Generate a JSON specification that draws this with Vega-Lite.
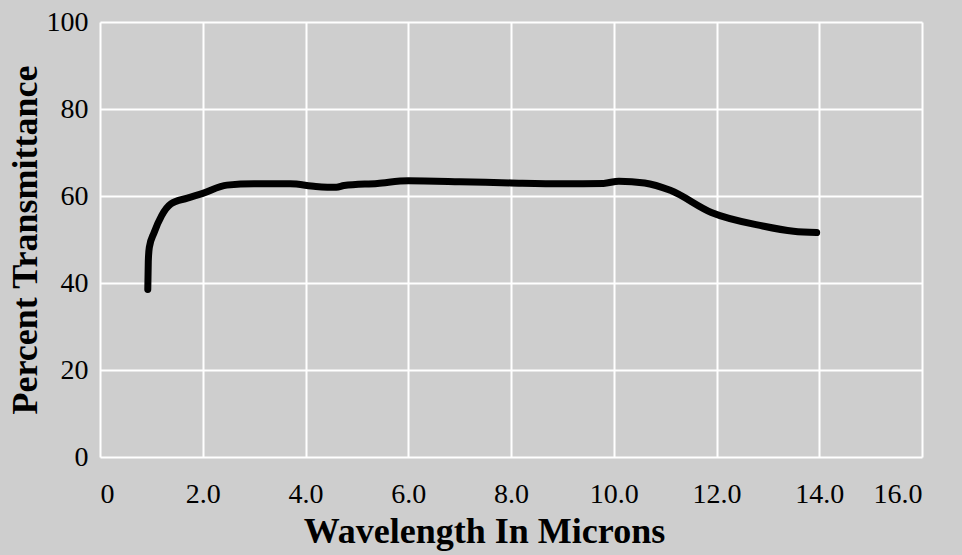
{
  "$schema": "https://vega.github.io/schema/vega-lite/v6.json",
  "width": 822,
  "height": 435,
  "autosize": {"type": "none"},
  "padding": {"left": 100, "top": 22, "right": 40, "bottom": 98},
  "background": "#cecece",
  "config": {
    "view": {"fill": "#cecece", "stroke": null},
    "font": "Liberation Serif"
  },
  "data": {
    "values": [
      {"w": 0.93, "t": 38.5},
      {"w": 0.94, "t": 45.0},
      {"w": 0.96, "t": 48.2},
      {"w": 1.05, "t": 51.5},
      {"w": 1.2, "t": 55.5},
      {"w": 1.38, "t": 58.2},
      {"w": 1.7, "t": 59.5},
      {"w": 2.0, "t": 60.6},
      {"w": 2.47, "t": 62.5},
      {"w": 3.0, "t": 62.8},
      {"w": 3.7, "t": 62.8},
      {"w": 4.2, "t": 62.2},
      {"w": 4.6, "t": 62.0},
      {"w": 4.75, "t": 62.4},
      {"w": 5.4, "t": 62.9},
      {"w": 6.0, "t": 63.5},
      {"w": 7.0, "t": 63.3},
      {"w": 8.0, "t": 63.0},
      {"w": 9.0, "t": 62.8},
      {"w": 9.8, "t": 62.9},
      {"w": 10.1, "t": 63.4},
      {"w": 10.6, "t": 63.0},
      {"w": 11.1, "t": 61.3},
      {"w": 11.9, "t": 56.2},
      {"w": 12.9, "t": 53.1},
      {"w": 13.5, "t": 51.9},
      {"w": 13.95, "t": 51.6}
    ]
  },
  "mark": {"type": "line", "color": "black", "strokeWidth": 7, "strokeCap": "round", "strokeJoin": "round", "interpolate": "monotone"},
  "encoding": {
    "x": {
      "field": "w", "type": "quantitative",
      "scale": {"domain": [0, 16], "nice": false},
      "axis": {
        "values": [0, 2, 4, 6, 8, 10, 12, 14, 16],
        "labelExpr": "datum.value == 0 ? '0' : format(datum.value, '.1f')",
        "title": "Wavelength In Microns",
        "grid": true, "gridColor": "white", "gridWidth": 2, "gridOpacity": 1,
        "domain": false, "ticks": false,
        "labelFontSize": 28, "labelColor": "black", "labelPadding": 23,
        "labelFont": "Liberation Serif",
        "titleFontSize": 36, "titleFontWeight": "bold", "titleColor": "black",
        "titleFont": "Liberation Serif", "titlePadding": 6,
        "titleX": 384, "titleAlign": "center"
      }
    },
    "y": {
      "field": "t", "type": "quantitative",
      "scale": {"domain": [0, 100], "nice": false},
      "axis": {
        "values": [0, 20, 40, 60, 80, 100],
        "title": "Percent Transmittance",
        "grid": true, "gridColor": "white", "gridWidth": 2, "gridOpacity": 1,
        "domain": false, "ticks": false,
        "labelFontSize": 28, "labelColor": "black", "labelPadding": 12,
        "labelFont": "Liberation Serif",
        "titleFontSize": 36, "titleFontWeight": "bold", "titleColor": "black",
        "titleFont": "Liberation Serif", "titlePadding": 2
      }
    }
  }
}
